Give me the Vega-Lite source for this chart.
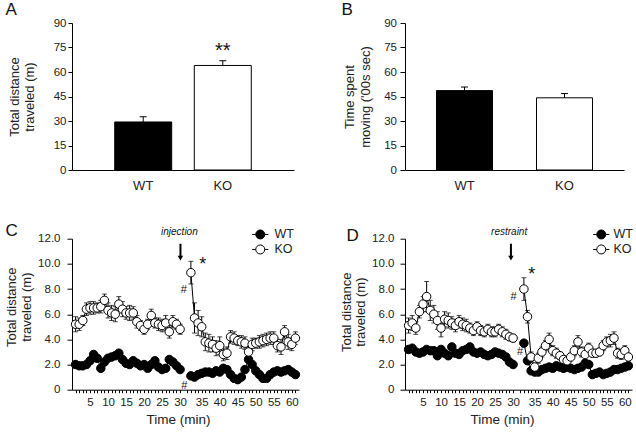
{
"$schema":"https://vega.github.io/schema/vega-lite/v6.json",
"background":"white",
"padding":{"left":5,"top":0,"right":5,"bottom":5},
"config":{"view":{"stroke":null},"font":"Liberation Sans",
 "axis":{"labelFont":"Liberation Sans","titleFont":"Liberation Sans","labelColor":"#222","titleColor":"#222","domainColor":"#000","tickColor":"#000","grid":false,"titleFontWeight":"normal","domainWidth":1,"tickWidth":1,"labelOverlap":false},
 "title":{"font":"Liberation Sans","fontWeight":"normal","color":"#111"},
 "text":{"font":"Liberation Sans"}},
"resolve":{"scale":{"fill":"independent","x":"independent","y":"independent"},"legend":{"fill":"independent"}},
"datasets":{
"bars":[{"p":"A","g":"WT","v":29.4,"hi":32.6},{"p":"A","g":"KO","v":64.0,"hi":66.9},{"p":"B","g":"WT","v":48.6,"hi":50.8},{"p":"B","g":"KO","v":44.2,"hi":46.8}],
"notesA":[{"p":"A","g":"KO","y":72.7,"l":"**"}],
"notes":[{"p":"C","k":"lab","x":29.8,"y":12.5,"l":"injection"},{"p":"D","k":"lab","x":28.9,"y":12.5,"l":"restraint"},{"p":"C","k":"star","x":36.3,"y":9.9,"l":"*"},{"p":"D","k":"star","x":35.2,"y":9.1,"l":"*"},{"p":"C","k":"hash","x":31,"y":7.9,"l":"#"},{"p":"C","k":"hash","x":31.2,"y":0.3,"l":"#"},{"p":"D","k":"hash","x":30.1,"y":7.4,"l":"#"},{"p":"D","k":"hash","x":31.9,"y":3.0,"l":"#"}],
"arrows":[{"p":"C","x":30.1,"y":11.6,"y2":10.6,"h":10.45},{"p":"D","x":29.4,"y":11.6,"y2":10.6,"h":10.45}],
"ts":[
{"p":"C","g":"WT","t":1,"v":2.0,"s":"a"},{"p":"C","g":"WT","t":2,"v":1.9,"s":"a"},{"p":"C","g":"WT","t":3,"v":1.9,"s":"a"},{"p":"C","g":"WT","t":4,"v":2.0,"s":"a"},{"p":"C","g":"WT","t":5,"v":2.3,"s":"a"},{"p":"C","g":"WT","t":6,"v":2.8,"s":"a"},{"p":"C","g":"WT","t":7,"v":2.5,"s":"a"},{"p":"C","g":"WT","t":8,"v":1.7,"s":"a"},{"p":"C","g":"WT","t":9,"v":2.2,"s":"a"},{"p":"C","g":"WT","t":10,"v":2.5,"s":"a"},{"p":"C","g":"WT","t":11,"v":2.6,"s":"a"},{"p":"C","g":"WT","t":12,"v":2.7,"s":"a"},{"p":"C","g":"WT","t":13,"v":2.9,"s":"a"},{"p":"C","g":"WT","t":14,"v":2.4,"s":"a"},{"p":"C","g":"WT","t":15,"v":2.1,"s":"a"},{"p":"C","g":"WT","t":16,"v":2.0,"s":"a"},{"p":"C","g":"WT","t":17,"v":2.3,"s":"a"},{"p":"C","g":"WT","t":18,"v":2.1,"s":"a"},{"p":"C","g":"WT","t":19,"v":1.9,"s":"a"},{"p":"C","g":"WT","t":20,"v":2.0,"s":"a"},{"p":"C","g":"WT","t":21,"v":1.7,"s":"a"},{"p":"C","g":"WT","t":22,"v":2.0,"s":"a"},{"p":"C","g":"WT","t":23,"v":2.3,"s":"a"},{"p":"C","g":"WT","t":24,"v":1.8,"s":"a"},{"p":"C","g":"WT","t":25,"v":1.6,"s":"a"},{"p":"C","g":"WT","t":26,"v":1.7,"s":"a"},{"p":"C","g":"WT","t":27,"v":2.4,"s":"a"},{"p":"C","g":"WT","t":28,"v":2.2,"s":"a"},{"p":"C","g":"WT","t":29,"v":1.9,"s":"a"},{"p":"C","g":"WT","t":30,"v":1.6,"s":"a"},
{"p":"C","g":"WT","t":33,"v":1.1,"s":"b"},{"p":"C","g":"WT","t":34,"v":1.0,"s":"b"},{"p":"C","g":"WT","t":35,"v":1.2,"s":"b"},{"p":"C","g":"WT","t":36,"v":1.3,"s":"b"},{"p":"C","g":"WT","t":37,"v":1.4,"s":"b"},{"p":"C","g":"WT","t":38,"v":1.4,"s":"b"},{"p":"C","g":"WT","t":39,"v":1.3,"s":"b"},{"p":"C","g":"WT","t":40,"v":1.5,"s":"b"},{"p":"C","g":"WT","t":41,"v":1.4,"s":"b"},{"p":"C","g":"WT","t":42,"v":1.7,"s":"b"},{"p":"C","g":"WT","t":43,"v":1.6,"s":"b"},{"p":"C","g":"WT","t":44,"v":1.2,"s":"b"},{"p":"C","g":"WT","t":45,"v":0.9,"s":"b"},{"p":"C","g":"WT","t":46,"v":0.8,"s":"b"},{"p":"C","g":"WT","t":47,"v":1.0,"s":"b"},{"p":"C","g":"WT","t":48,"v":1.6,"s":"b"},{"p":"C","g":"WT","t":49,"v":2.4,"s":"b"},{"p":"C","g":"WT","t":50,"v":2.0,"s":"b"},{"p":"C","g":"WT","t":51,"v":1.5,"s":"b"},{"p":"C","g":"WT","t":52,"v":1.2,"s":"b"},{"p":"C","g":"WT","t":53,"v":0.9,"s":"b"},{"p":"C","g":"WT","t":54,"v":0.9,"s":"b"},{"p":"C","g":"WT","t":55,"v":1.2,"s":"b"},{"p":"C","g":"WT","t":56,"v":1.4,"s":"b"},{"p":"C","g":"WT","t":57,"v":1.5,"s":"b"},{"p":"C","g":"WT","t":58,"v":1.4,"s":"b"},{"p":"C","g":"WT","t":59,"v":1.5,"s":"b"},{"p":"C","g":"WT","t":60,"v":1.6,"s":"b"},{"p":"C","g":"WT","t":61,"v":1.4,"s":"b"},{"p":"C","g":"WT","t":62,"v":1.2,"s":"b"},
{"p":"C","g":"KO","t":1,"v":5.2,"se":0.6,"s":"a"},{"p":"C","g":"KO","t":2,"v":5.2,"se":0.5,"s":"a"},{"p":"C","g":"KO","t":3,"v":5.5,"se":0.4,"s":"a"},{"p":"C","g":"KO","t":4,"v":6.4,"se":0.5,"s":"a"},{"p":"C","g":"KO","t":5,"v":6.5,"se":0.5,"s":"a"},{"p":"C","g":"KO","t":6,"v":6.5,"se":0.5,"s":"a"},{"p":"C","g":"KO","t":7,"v":6.5,"se":0.4,"s":"a"},{"p":"C","g":"KO","t":8,"v":6.6,"se":0.5,"s":"a"},{"p":"C","g":"KO","t":9,"v":7.1,"se":0.5,"s":"a"},{"p":"C","g":"KO","t":10,"v":6.3,"se":0.6,"s":"a"},{"p":"C","g":"KO","t":11,"v":6.1,"se":0.6,"s":"a"},{"p":"C","g":"KO","t":12,"v":6.0,"se":0.6,"s":"a"},{"p":"C","g":"KO","t":13,"v":6.8,"se":0.6,"s":"a"},{"p":"C","g":"KO","t":14,"v":6.4,"se":0.6,"s":"a"},{"p":"C","g":"KO","t":15,"v":6.1,"se":0.5,"s":"a"},{"p":"C","g":"KO","t":16,"v":6.1,"se":0.6,"s":"a"},{"p":"C","g":"KO","t":17,"v":6.1,"se":0.5,"s":"a"},{"p":"C","g":"KO","t":18,"v":5.4,"se":0.5,"s":"a"},{"p":"C","g":"KO","t":19,"v":5.1,"se":0.4,"s":"a"},{"p":"C","g":"KO","t":20,"v":4.8,"se":0.4,"s":"a"},{"p":"C","g":"KO","t":21,"v":5.2,"se":0.4,"s":"a"},{"p":"C","g":"KO","t":22,"v":5.9,"se":0.5,"s":"a"},{"p":"C","g":"KO","t":23,"v":5.3,"se":0.4,"s":"a"},{"p":"C","g":"KO","t":24,"v":5.2,"se":0.5,"s":"a"},{"p":"C","g":"KO","t":25,"v":5.1,"se":0.5,"s":"a"},{"p":"C","g":"KO","t":26,"v":5.3,"se":0.6,"s":"a"},{"p":"C","g":"KO","t":27,"v":4.6,"se":0.5,"s":"a"},{"p":"C","g":"KO","t":28,"v":5.4,"se":0.5,"s":"a"},{"p":"C","g":"KO","t":29,"v":5.2,"se":0.4,"s":"a"},{"p":"C","g":"KO","t":30,"v":4.8,"se":0.4,"s":"a"},
{"p":"C","g":"KO","t":33,"v":9.3,"se":0.9,"s":"b"},{"p":"C","g":"KO","t":34,"v":5.7,"se":1.2,"s":"b"},{"p":"C","g":"KO","t":35,"v":5.3,"se":1.0,"s":"b"},{"p":"C","g":"KO","t":36,"v":5.0,"se":0.8,"s":"b"},{"p":"C","g":"KO","t":37,"v":3.8,"se":0.7,"s":"b"},{"p":"C","g":"KO","t":38,"v":3.7,"se":0.7,"s":"b"},{"p":"C","g":"KO","t":39,"v":3.6,"se":0.6,"s":"b"},{"p":"C","g":"KO","t":40,"v":3.3,"se":0.6,"s":"b"},{"p":"C","g":"KO","t":41,"v":3.5,"se":0.7,"s":"b"},{"p":"C","g":"KO","t":42,"v":2.8,"se":0.5,"s":"b"},{"p":"C","g":"KO","t":43,"v":2.9,"se":0.5,"s":"b"},{"p":"C","g":"KO","t":44,"v":4.2,"se":0.5,"s":"b"},{"p":"C","g":"KO","t":45,"v":4.1,"se":0.5,"s":"b"},{"p":"C","g":"KO","t":46,"v":3.9,"se":0.4,"s":"b"},{"p":"C","g":"KO","t":47,"v":3.8,"se":0.5,"s":"b"},{"p":"C","g":"KO","t":48,"v":3.7,"se":0.5,"s":"b"},{"p":"C","g":"KO","t":49,"v":3.0,"se":0.5,"s":"b"},{"p":"C","g":"KO","t":50,"v":3.6,"se":0.5,"s":"b"},{"p":"C","g":"KO","t":51,"v":3.7,"se":0.4,"s":"b"},{"p":"C","g":"KO","t":52,"v":3.8,"se":0.5,"s":"b"},{"p":"C","g":"KO","t":53,"v":3.9,"se":0.5,"s":"b"},{"p":"C","g":"KO","t":54,"v":4.0,"se":0.5,"s":"b"},{"p":"C","g":"KO","t":55,"v":4.1,"se":0.5,"s":"b"},{"p":"C","g":"KO","t":56,"v":4.1,"se":0.5,"s":"b"},{"p":"C","g":"KO","t":57,"v":3.5,"se":0.5,"s":"b"},{"p":"C","g":"KO","t":58,"v":3.4,"se":0.6,"s":"b"},{"p":"C","g":"KO","t":59,"v":4.6,"se":0.5,"s":"b"},{"p":"C","g":"KO","t":60,"v":3.8,"se":0.6,"s":"b"},{"p":"C","g":"KO","t":61,"v":3.6,"se":0.5,"s":"b"},{"p":"C","g":"KO","t":62,"v":4.1,"se":0.5,"s":"b"},
{"p":"D","g":"WT","t":1,"v":3.2,"s":"a"},{"p":"D","g":"WT","t":2,"v":3.3,"s":"a"},{"p":"D","g":"WT","t":3,"v":3.0,"s":"a"},{"p":"D","g":"WT","t":4,"v":2.9,"s":"a"},{"p":"D","g":"WT","t":5,"v":3.0,"s":"a"},{"p":"D","g":"WT","t":6,"v":3.2,"s":"a"},{"p":"D","g":"WT","t":7,"v":3.1,"s":"a"},{"p":"D","g":"WT","t":8,"v":3.1,"s":"a"},{"p":"D","g":"WT","t":9,"v":2.7,"s":"a"},{"p":"D","g":"WT","t":10,"v":3.2,"s":"a"},{"p":"D","g":"WT","t":11,"v":2.9,"s":"a"},{"p":"D","g":"WT","t":12,"v":2.7,"s":"a"},{"p":"D","g":"WT","t":13,"v":3.4,"s":"a"},{"p":"D","g":"WT","t":14,"v":2.9,"s":"a"},{"p":"D","g":"WT","t":15,"v":2.8,"s":"a"},{"p":"D","g":"WT","t":16,"v":3.1,"s":"a"},{"p":"D","g":"WT","t":17,"v":3.2,"s":"a"},{"p":"D","g":"WT","t":18,"v":3.4,"s":"a"},{"p":"D","g":"WT","t":19,"v":3.0,"s":"a"},{"p":"D","g":"WT","t":20,"v":2.9,"s":"a"},{"p":"D","g":"WT","t":21,"v":3.0,"s":"a"},{"p":"D","g":"WT","t":22,"v":2.8,"s":"a"},{"p":"D","g":"WT","t":23,"v":2.7,"s":"a"},{"p":"D","g":"WT","t":24,"v":2.8,"s":"a"},{"p":"D","g":"WT","t":25,"v":3.0,"s":"a"},{"p":"D","g":"WT","t":26,"v":2.9,"s":"a"},{"p":"D","g":"WT","t":27,"v":2.8,"s":"a"},{"p":"D","g":"WT","t":28,"v":2.6,"s":"a"},{"p":"D","g":"WT","t":29,"v":2.2,"s":"a"},{"p":"D","g":"WT","t":30,"v":2.0,"s":"a"},
{"p":"D","g":"WT","t":33,"v":3.7,"s":"b"},{"p":"D","g":"WT","t":34,"v":2.3,"s":"b"},{"p":"D","g":"WT","t":35,"v":1.5,"s":"b"},{"p":"D","g":"WT","t":36,"v":1.4,"s":"b"},{"p":"D","g":"WT","t":37,"v":1.4,"s":"b"},{"p":"D","g":"WT","t":38,"v":1.6,"s":"b"},{"p":"D","g":"WT","t":39,"v":1.7,"s":"b"},{"p":"D","g":"WT","t":40,"v":1.8,"s":"b"},{"p":"D","g":"WT","t":41,"v":1.7,"s":"b"},{"p":"D","g":"WT","t":42,"v":1.9,"s":"b"},{"p":"D","g":"WT","t":43,"v":1.8,"s":"b"},{"p":"D","g":"WT","t":44,"v":1.7,"s":"b"},{"p":"D","g":"WT","t":45,"v":1.8,"s":"b"},{"p":"D","g":"WT","t":46,"v":1.7,"s":"b"},{"p":"D","g":"WT","t":47,"v":1.6,"s":"b"},{"p":"D","g":"WT","t":48,"v":1.7,"s":"b"},{"p":"D","g":"WT","t":49,"v":1.8,"s":"b"},{"p":"D","g":"WT","t":50,"v":2.1,"s":"b"},{"p":"D","g":"WT","t":51,"v":2.0,"s":"b"},{"p":"D","g":"WT","t":52,"v":1.2,"s":"b"},{"p":"D","g":"WT","t":53,"v":1.3,"s":"b"},{"p":"D","g":"WT","t":54,"v":1.4,"s":"b"},{"p":"D","g":"WT","t":55,"v":1.2,"s":"b"},{"p":"D","g":"WT","t":56,"v":1.3,"s":"b"},{"p":"D","g":"WT","t":57,"v":1.4,"s":"b"},{"p":"D","g":"WT","t":58,"v":1.6,"s":"b"},{"p":"D","g":"WT","t":59,"v":1.6,"s":"b"},{"p":"D","g":"WT","t":60,"v":1.7,"s":"b"},{"p":"D","g":"WT","t":61,"v":1.8,"s":"b"},{"p":"D","g":"WT","t":62,"v":1.9,"s":"b"},
{"p":"D","g":"KO","t":1,"v":5.1,"se":0.6,"s":"a"},{"p":"D","g":"KO","t":2,"v":5.3,"se":0.6,"s":"a"},{"p":"D","g":"KO","t":3,"v":4.9,"se":0.5,"s":"a"},{"p":"D","g":"KO","t":4,"v":6.2,"se":0.5,"s":"a"},{"p":"D","g":"KO","t":5,"v":6.8,"se":0.6,"s":"a"},{"p":"D","g":"KO","t":6,"v":7.4,"se":1.2,"s":"a"},{"p":"D","g":"KO","t":7,"v":6.3,"se":0.8,"s":"a"},{"p":"D","g":"KO","t":8,"v":6.0,"se":0.7,"s":"a"},{"p":"D","g":"KO","t":9,"v":5.5,"se":0.7,"s":"a"},{"p":"D","g":"KO","t":10,"v":4.9,"se":0.7,"s":"a"},{"p":"D","g":"KO","t":11,"v":5.6,"se":0.6,"s":"a"},{"p":"D","g":"KO","t":12,"v":5.5,"se":0.6,"s":"a"},{"p":"D","g":"KO","t":13,"v":5.3,"se":0.5,"s":"a"},{"p":"D","g":"KO","t":14,"v":5.1,"se":0.5,"s":"a"},{"p":"D","g":"KO","t":15,"v":5.4,"se":0.5,"s":"a"},{"p":"D","g":"KO","t":16,"v":5.2,"se":0.5,"s":"a"},{"p":"D","g":"KO","t":17,"v":5.1,"se":0.5,"s":"a"},{"p":"D","g":"KO","t":18,"v":4.9,"se":0.4,"s":"a"},{"p":"D","g":"KO","t":19,"v":4.7,"se":0.4,"s":"a"},{"p":"D","g":"KO","t":20,"v":5.0,"se":0.4,"s":"a"},{"p":"D","g":"KO","t":21,"v":4.7,"se":0.4,"s":"a"},{"p":"D","g":"KO","t":22,"v":4.6,"se":0.4,"s":"a"},{"p":"D","g":"KO","t":23,"v":4.8,"se":0.4,"s":"a"},{"p":"D","g":"KO","t":24,"v":4.6,"se":0.4,"s":"a"},{"p":"D","g":"KO","t":25,"v":4.6,"se":0.4,"s":"a"},{"p":"D","g":"KO","t":26,"v":4.8,"se":0.4,"s":"a"},{"p":"D","g":"KO","t":27,"v":4.6,"se":0.4,"s":"a"},{"p":"D","g":"KO","t":28,"v":4.4,"se":0.4,"s":"a"},{"p":"D","g":"KO","t":29,"v":4.2,"se":0.3,"s":"a"},{"p":"D","g":"KO","t":30,"v":4.1,"se":0.3,"s":"a"},
{"p":"D","g":"KO","t":33,"v":8.0,"se":0.9,"s":"b"},{"p":"D","g":"KO","t":34,"v":5.8,"se":0.5,"s":"b"},{"p":"D","g":"KO","t":35,"v":2.6,"se":0.4,"s":"b"},{"p":"D","g":"KO","t":36,"v":1.8,"se":0.3,"s":"b"},{"p":"D","g":"KO","t":37,"v":2.5,"se":0.4,"s":"b"},{"p":"D","g":"KO","t":38,"v":3.0,"se":0.4,"s":"b"},{"p":"D","g":"KO","t":39,"v":3.5,"se":0.4,"s":"b"},{"p":"D","g":"KO","t":40,"v":4.0,"se":0.5,"s":"b"},{"p":"D","g":"KO","t":41,"v":3.1,"se":0.4,"s":"b"},{"p":"D","g":"KO","t":42,"v":2.9,"se":0.4,"s":"b"},{"p":"D","g":"KO","t":43,"v":2.7,"se":0.3,"s":"b"},{"p":"D","g":"KO","t":44,"v":2.4,"se":0.3,"s":"b"},{"p":"D","g":"KO","t":45,"v":2.3,"se":0.3,"s":"b"},{"p":"D","g":"KO","t":46,"v":2.6,"se":0.3,"s":"b"},{"p":"D","g":"KO","t":47,"v":3.1,"se":0.4,"s":"b"},{"p":"D","g":"KO","t":48,"v":3.8,"se":0.5,"s":"b"},{"p":"D","g":"KO","t":49,"v":3.0,"se":0.4,"s":"b"},{"p":"D","g":"KO","t":50,"v":2.8,"se":0.4,"s":"b"},{"p":"D","g":"KO","t":51,"v":3.3,"se":0.4,"s":"b"},{"p":"D","g":"KO","t":52,"v":2.9,"se":0.3,"s":"b"},{"p":"D","g":"KO","t":53,"v":2.9,"se":0.3,"s":"b"},{"p":"D","g":"KO","t":54,"v":3.0,"se":0.3,"s":"b"},{"p":"D","g":"KO","t":55,"v":3.5,"se":0.4,"s":"b"},{"p":"D","g":"KO","t":56,"v":3.8,"se":0.4,"s":"b"},{"p":"D","g":"KO","t":57,"v":3.9,"se":0.5,"s":"b"},{"p":"D","g":"KO","t":58,"v":4.1,"se":0.5,"s":"b"},{"p":"D","g":"KO","t":59,"v":2.9,"se":0.4,"s":"b"},{"p":"D","g":"KO","t":60,"v":2.8,"se":0.4,"s":"b"},{"p":"D","g":"KO","t":61,"v":3.1,"se":0.4,"s":"b"},{"p":"D","g":"KO","t":62,"v":2.6,"se":0.3,"s":"b"}
]},
"columns":2,
"spacing":{"row":68.7,"column":106},
"bounds":"flush",
"concat":[
{"width":222,"height":147,
 "title":{"text":"A","anchor":"start","frame":"group","dx":-66.5,"offset":-18.5,"fontSize":17,"baseline":"bottom"},
 "layer":[
  {"data":{"name":"bars"},"transform":[{"filter":"datum.p==='A'"}],"mark":{"type":"bar","stroke":"black","strokeWidth":1},
   "encoding":{"x":{"field":"g","type":"nominal","sort":["WT","KO"],"scale":{"paddingInner":0.284,"paddingOuter":0.537},"axis":{"title":null,"ticks":false,"labelPadding":9,"labelFontSize":13,"labelAngle":0}},
    "y":{"field":"v","type":"quantitative","scale":{"domain":[0,90],"nice":false},"axis":{"values":[0,15,30,45,60,75,90],"tickCount":1000,"format":"d","labelOverlap":false,"title":["Total distance","traveled (m)"],"tickSize":4,"labelPadding":2,"labelFontSize":11.5,"titleFontSize":13,"titlePadding":17,"titleLineHeight":15}},
    "fill":{"field":"g","type":"nominal","scale":{"domain":["WT","KO"],"range":["black","white"]},"legend":null}}},
  {"data":{"name":"bars"},"transform":[{"filter":"datum.p==='A'"}],"mark":{"type":"rule","color":"black","strokeWidth":1},
   "encoding":{"x":{"field":"g","type":"nominal","sort":["WT","KO"]},"y":{"field":"v","type":"quantitative"},"y2":{"field":"hi"}}},
  {"data":{"name":"bars"},"transform":[{"filter":"datum.p==='A'"}],"mark":{"type":"tick","color":"black","thickness":1,"size":7,"orient":"horizontal","opacity":1},
   "encoding":{"x":{"field":"g","type":"nominal","sort":["WT","KO"]},"y":{"field":"hi","type":"quantitative"}}},
  {"data":{"name":"notesA"},"mark":{"type":"text","fontSize":20,"baseline":"middle","color":"#111"},
   "encoding":{"x":{"field":"g","type":"nominal","sort":["WT","KO"]},"y":{"field":"y","type":"quantitative"},"text":{"field":"l"}}}
 ]},
{"width":219,"height":147,
 "title":{"text":"B","anchor":"start","frame":"group","dx":-63.5,"offset":-18.5,"fontSize":17,"baseline":"bottom"},
 "layer":[
  {"data":{"name":"bars"},"transform":[{"filter":"datum.p==='B'"}],"mark":{"type":"bar","stroke":"black","strokeWidth":1},
   "encoding":{"x":{"field":"g","type":"nominal","sort":["WT","KO"],"scale":{"paddingInner":0.44,"paddingOuter":0.315},"axis":{"title":null,"ticks":false,"labelPadding":9,"labelFontSize":13,"labelAngle":0}},
    "y":{"field":"v","type":"quantitative","scale":{"domain":[0,90],"nice":false},"axis":{"values":[0,15,30,45,60,75,90],"tickCount":1000,"format":"d","labelOverlap":false,"title":["Time spent","moving ('00s sec)"],"tickSize":5,"labelPadding":3.5,"labelFontSize":11.5,"titleFontSize":13,"titlePadding":11,"titleLineHeight":16}},
    "fill":{"field":"g","type":"nominal","scale":{"domain":["WT","KO"],"range":["black","white"]},"legend":null}}},
  {"data":{"name":"bars"},"transform":[{"filter":"datum.p==='B'"}],"mark":{"type":"rule","color":"black","strokeWidth":1},
   "encoding":{"x":{"field":"g","type":"nominal","sort":["WT","KO"]},"y":{"field":"v","type":"quantitative"},"y2":{"field":"hi"}}},
  {"data":{"name":"bars"},"transform":[{"filter":"datum.p==='B'"}],"mark":{"type":"tick","color":"black","thickness":1,"size":7,"orient":"horizontal","opacity":1},
   "encoding":{"x":{"field":"g","type":"nominal","sort":["WT","KO"]},"y":{"field":"hi","type":"quantitative"}}}
 ]},
{"width":227,"height":151,
 "title":{"text":"C","anchor":"start","frame":"group","dx":-66.5,"dy":4,"offset":-26,"fontSize":17,"baseline":"bottom"},
 "layer":[
  {"data":{"name":"ts"},"transform":[{"filter":"datum.p==='C' && datum.g==='KO'"}],"mark":{"type":"errorbar","ticks":true,"color":"black","thickness":1},
   "encoding":{"x":{"field":"t","type":"quantitative","scale":{"domain":[0,63],"nice":false,"zero":false},
     "axis":{"values":[1,2,3,4,5,6,7,8,9,10,11,12,13,14,15,16,17,18,19,20,21,22,23,24,25,26,27,28,29,30,32,33,34,35,36,37,38,39,40,41,42,43,44,45,46,47,48,49,50,51,52,53,54,55,56,57,58,59,60,61,62],"tickCount":1000,
      "labelExpr":"datum.value <= 30 ? (datum.value % 5 === 0 ? format(datum.value,'d') : '') : ((datum.value - 1) % 5 === 0 ? format(datum.value - 1,'d') : '')",
      "labelOverlap":false,"labelFlush":false,"tickSize":3,"labelPadding":4,"labelFontSize":11.5,"title":"Time (min)","titleFontSize":13.5,"titlePadding":4,"titleX":106}},
    "y":{"field":"v","type":"quantitative","scale":{"domain":[0,12],"nice":false},
     "axis":{"values":[0,2,4,6,8,10,12],"tickCount":1000,"labelOverlap":false,"labelExpr":"datum.value === 0 ? '0' : format(datum.value,'.1f')","title":["Total distance","traveled (m)"],"tickSize":5,"labelPadding":7,"labelFontSize":11.5,"titleFontSize":13,"titlePadding":4.5,"titleLineHeight":15,"titleY":68}},
    "yError":{"field":"se"}}},
  {"data":{"name":"ts"},"transform":[{"filter":"datum.p==='C'"}],"mark":{"type":"line","color":"black","strokeWidth":1},
   "encoding":{"x":{"field":"t","type":"quantitative"},"y":{"field":"v","type":"quantitative"},"detail":[{"field":"g","type":"nominal"},{"field":"s","type":"nominal"}]}},
  {"data":{"name":"ts"},"transform":[{"filter":"datum.p==='C'"}],"mark":{"type":"circle","size":72,"stroke":"black","strokeWidth":1,"opacity":1},
   "encoding":{"x":{"field":"t","type":"quantitative"},"y":{"field":"v","type":"quantitative"},
    "fill":{"field":"g","type":"nominal","scale":{"domain":["WT","KO"],"range":["black","white"]},
     "legend":{"orient":"none","legendX":182,"legendY":-10.5,"title":null,"symbolType":"M-1.8,0H-1M1,0H1.8M1,0A1,1,0,1,1,-1,0A1,1,0,1,1,1,0Z","symbolSize":81,"symbolStrokeColor":"black","symbolStrokeWidth":1,"symbolOpacity":1,"labelFontSize":12.5,"labelOffset":8,"rowPadding":1,"labelColor":"#222","padding":0}}}},
  {"data":{"name":"notes"},"transform":[{"filter":"datum.p==='C' && datum.k==='lab'"}],"mark":{"type":"text","fontSize":10,"fontStyle":"italic","baseline":"middle","color":"#111"},
   "encoding":{"x":{"field":"x","type":"quantitative"},"y":{"field":"y","type":"quantitative"},"text":{"field":"l"}}},
  {"data":{"name":"notes"},"transform":[{"filter":"datum.p==='C' && datum.k==='star'"}],"mark":{"type":"text","fontSize":18,"baseline":"middle","color":"#111"},
   "encoding":{"x":{"field":"x","type":"quantitative"},"y":{"field":"y","type":"quantitative"},"text":{"field":"l"}}},
  {"data":{"name":"notes"},"transform":[{"filter":"datum.p==='C' && datum.k==='hash'"}],"mark":{"type":"text","fontSize":11,"baseline":"middle","color":"#111"},
   "encoding":{"x":{"field":"x","type":"quantitative"},"y":{"field":"y","type":"quantitative"},"text":{"field":"l"}}},
  {"data":{"name":"arrows"},"transform":[{"filter":"datum.p==='C'"}],"mark":{"type":"rule","color":"black","strokeWidth":2},
   "encoding":{"x":{"field":"x","type":"quantitative"},"y":{"field":"y","type":"quantitative"},"y2":{"field":"y2"}}},
  {"data":{"name":"arrows"},"transform":[{"filter":"datum.p==='C'"}],"mark":{"type":"point","shape":"triangle-down","filled":true,"color":"black","size":30,"opacity":1},
   "encoding":{"x":{"field":"x","type":"quantitative"},"y":{"field":"h","type":"quantitative"}}}
 ]},
{"width":227,"height":151,
 "title":{"text":"D","anchor":"start","frame":"group","dx":-58.5,"dy":6,"offset":-29,"fontSize":17,"baseline":"bottom"},
 "layer":[
  {"data":{"name":"ts"},"transform":[{"filter":"datum.p==='D' && datum.g==='KO'"}],"mark":{"type":"errorbar","ticks":true,"color":"black","thickness":1},
   "encoding":{"x":{"field":"t","type":"quantitative","scale":{"domain":[0,63],"nice":false,"zero":false},
     "axis":{"values":[1,2,3,4,5,6,7,8,9,10,11,12,13,14,15,16,17,18,19,20,21,22,23,24,25,26,27,28,29,30,32,33,34,35,36,37,38,39,40,41,42,43,44,45,46,47,48,49,50,51,52,53,54,55,56,57,58,59,60,61,62],"tickCount":1000,
      "labelExpr":"datum.value <= 30 ? (datum.value % 5 === 0 ? format(datum.value,'d') : '') : ((datum.value - 1) % 5 === 0 ? format(datum.value - 1,'d') : '')",
      "labelOverlap":false,"labelFlush":false,"tickSize":3,"labelPadding":4,"labelFontSize":11.5,"title":"Time (min)","titleFontSize":13.5,"titlePadding":4,"titleX":97}},
    "y":{"field":"v","type":"quantitative","scale":{"domain":[0,12],"nice":false},
     "axis":{"values":[0,2,4,6,8,10,12],"tickCount":1000,"labelOverlap":false,"labelExpr":"datum.value === 0 ? '0' : format(datum.value,'.1f')","title":["Total distance","traveled (m)"],"tickSize":5,"labelPadding":6,"labelFontSize":11.5,"titleFontSize":13,"titlePadding":4.5,"titleLineHeight":14,"titleY":73}},
    "yError":{"field":"se"}}},
  {"data":{"name":"ts"},"transform":[{"filter":"datum.p==='D'"}],"mark":{"type":"line","color":"black","strokeWidth":1},
   "encoding":{"x":{"field":"t","type":"quantitative"},"y":{"field":"v","type":"quantitative"},"detail":[{"field":"g","type":"nominal"},{"field":"s","type":"nominal"}]}},
  {"data":{"name":"ts"},"transform":[{"filter":"datum.p==='D'"}],"mark":{"type":"circle","size":72,"stroke":"black","strokeWidth":1,"opacity":1},
   "encoding":{"x":{"field":"t","type":"quantitative"},"y":{"field":"v","type":"quantitative"},
    "fill":{"field":"g","type":"nominal","scale":{"domain":["WT","KO"],"range":["black","white"]},
     "legend":{"orient":"none","legendX":190,"legendY":-10.5,"title":null,"symbolType":"M-1.8,0H-1M1,0H1.8M1,0A1,1,0,1,1,-1,0A1,1,0,1,1,1,0Z","symbolSize":81,"symbolStrokeColor":"black","symbolStrokeWidth":1,"symbolOpacity":1,"labelFontSize":12.5,"labelOffset":6,"rowPadding":1,"labelColor":"#222","padding":0}}}},
  {"data":{"name":"notes"},"transform":[{"filter":"datum.p==='D' && datum.k==='lab'"}],"mark":{"type":"text","fontSize":10,"fontStyle":"italic","baseline":"middle","color":"#111"},
   "encoding":{"x":{"field":"x","type":"quantitative"},"y":{"field":"y","type":"quantitative"},"text":{"field":"l"}}},
  {"data":{"name":"notes"},"transform":[{"filter":"datum.p==='D' && datum.k==='star'"}],"mark":{"type":"text","fontSize":18,"baseline":"middle","color":"#111"},
   "encoding":{"x":{"field":"x","type":"quantitative"},"y":{"field":"y","type":"quantitative"},"text":{"field":"l"}}},
  {"data":{"name":"notes"},"transform":[{"filter":"datum.p==='D' && datum.k==='hash'"}],"mark":{"type":"text","fontSize":11,"baseline":"middle","color":"#111"},
   "encoding":{"x":{"field":"x","type":"quantitative"},"y":{"field":"y","type":"quantitative"},"text":{"field":"l"}}},
  {"data":{"name":"arrows"},"transform":[{"filter":"datum.p==='D'"}],"mark":{"type":"rule","color":"black","strokeWidth":2},
   "encoding":{"x":{"field":"x","type":"quantitative"},"y":{"field":"y","type":"quantitative"},"y2":{"field":"y2"}}},
  {"data":{"name":"arrows"},"transform":[{"filter":"datum.p==='D'"}],"mark":{"type":"point","shape":"triangle-down","filled":true,"color":"black","size":30,"opacity":1},
   "encoding":{"x":{"field":"x","type":"quantitative"},"y":{"field":"h","type":"quantitative"}}}
 ]}
]
}
